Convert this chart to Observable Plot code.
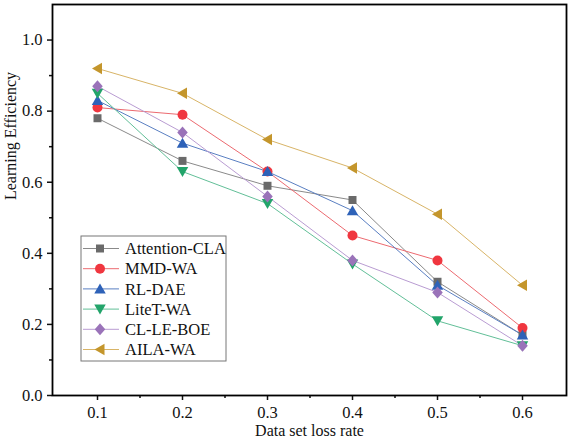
<!DOCTYPE html>
<html>
<head>
<meta charset="utf-8">
<script src="https://cdn.jsdelivr.net/npm/d3@7"></script>
<script src="https://cdn.jsdelivr.net/npm/@observablehq/plot@0.6"></script>
<style>
  html, body { margin: 0; padding: 0; background: #fff; }
  #chart { width: 570px; height: 442px; }
</style>
</head>
<body>
<div id="chart"></div>
<script>
// ---- data ----
const lossRates = [0.1, 0.2, 0.3, 0.4, 0.5, 0.6];
const seriesNames = ["Attention-CLA", "MMD-WA", "RL-DAE", "LiteT-WA", "CL-LE-BOE", "AILA-WA"];
const attentionCLA = [0.78, 0.66, 0.59, 0.55, 0.32, 0.17];
const mmdWA        = [0.81, 0.79, 0.63, 0.45, 0.38, 0.19];
const rlDAE        = [0.83, 0.71, 0.63, 0.52, 0.31, 0.17];
const liteTWA      = [0.85, 0.63, 0.54, 0.37, 0.21, 0.14];
const clLEBOE      = [0.87, 0.74, 0.56, 0.38, 0.29, 0.14];
const ailaWA       = [0.92, 0.85, 0.72, 0.64, 0.51, 0.31];
const seriesValues = [attentionCLA, mmdWA, rlDAE, liteTWA, clLEBOE, ailaWA];
const xTicks = [0.1, 0.2, 0.3, 0.4, 0.5, 0.6];
const xMinorTicks = [0.15, 0.25, 0.35, 0.45, 0.55];
const yTicks = [0, 0.2, 0.4, 0.6, 0.8, 1.0];
const yMinorTicks = [0.1, 0.3, 0.5, 0.7, 0.9];
const xLabel = "Data set loss rate";
const yLabel = "Learning Efficiency";

// ---- styles ----
const markerColors = ["#6a6a6a", "#f0363f", "#2e62b8", "#22a46a", "#9a73b9", "#c4962c"];
const lineColors   = ["#8a8a8a", "#ec6a70", "#5a7fc2", "#62bf98", "#b99cd2", "#d8b467"];

// custom symbols (size = pi * r^2)
function mk(drawFn) { return { draw(ctx, size) { drawFn(ctx, Math.sqrt(size / Math.PI)); } }; }
const symSquare = mk((c, r) => { const h = r * 0.8; c.moveTo(-h, -h); c.lineTo(h, -h); c.lineTo(h, h); c.lineTo(-h, h); c.closePath(); });
const symCircle = mk((c, r) => { const a = r * 1.0; c.moveTo(a, 0); c.arc(0, 0, a, 0, 2 * Math.PI); });
const symTriUp = mk((c, r) => { c.moveTo(0, -r * 1.1); c.lineTo(r * 1.15, r * 0.9); c.lineTo(-r * 1.15, r * 0.9); c.closePath(); });
const symTriDown = mk((c, r) => { c.moveTo(0, r * 1.1); c.lineTo(r * 1.15, -r * 0.9); c.lineTo(-r * 1.15, -r * 0.9); c.closePath(); });
const symDiamond = mk((c, r) => { c.moveTo(0, -r * 1.2); c.lineTo(r * 1.05, 0); c.lineTo(0, r * 1.2); c.lineTo(-r * 1.05, 0); c.closePath(); });
const symTriLeft = mk((c, r) => { c.moveTo(-r * 1.1, 0); c.lineTo(r * 0.9, -r * 1.15); c.lineTo(r * 0.9, r * 1.15); c.closePath(); });
const symbols = [symSquare, symCircle, symTriUp, symTriDown, symDiamond, symTriLeft];

const rows = seriesNames.map((name, i) => lossRates.map((x, j) => ({ series: name, x, y: seriesValues[i][j] })));

const font = "Liberation Serif, Times New Roman, serif";
const markerR = 5;

// legend as a render-function mark
function legendMark() {
  const g = d3.create("svg:g");
  const x0 = 81, y0 = 236, w = 145, h = 125;
  g.append("rect").attr("x", x0).attr("y", y0).attr("width", w).attr("height", h)
    .attr("fill", "white").attr("stroke", "#777").attr("stroke-width", 1);
  seriesNames.forEach((name, i) => {
    const cy = 248.5 + i * 20.2;
    g.append("line").attr("x1", 83).attr("x2", 119).attr("y1", cy).attr("y2", cy)
      .attr("stroke", lineColors[i]).attr("stroke-width", 1);
    const p = d3.path();
    symbols[i].draw(p, Math.PI * markerR * markerR);
    g.append("path").attr("d", p.toString()).attr("transform", `translate(100,${cy})`)
      .attr("fill", markerColors[i]);
    g.append("text").attr("x", 125).attr("y", cy).attr("dy", "0.35em")
      .attr("text-anchor", "start")
      .attr("font-size", 16.5).attr("fill", "#111").attr("font-family", font).text(name);
  });
  return g.node();
}

const marks = [];
rows.forEach((data, i) => {
  marks.push(Plot.line(data, { x: "x", y: "y", stroke: lineColors[i], strokeWidth: 1 }));
});
rows.forEach((data, i) => {
  marks.push(Plot.dot(data, { x: "x", y: "y", symbol: symbols[i], r: markerR, fill: markerColors[i], stroke: "none" }));
});

const chart = Plot.plot({
  width: 570,
  height: 442,
  marginLeft: 52,
  marginRight: 4,
  marginTop: 4,
  marginBottom: 47,
  style: { fontFamily: font, fontSize: "16.5px", color: "#111", background: "white" },
  x: { domain: [0.04706, 0.65176] },
  y: { domain: [0, 1.1] },
  marks: [
    Plot.axisX({ ticks: xTicks, tickFormat: d3.format(".1f"), tickSize: 5, tickPadding: 6, label: null, strokeWidth: 1.5 }),
    Plot.axisX({ ticks: xMinorTicks, tickFormat: () => "", tickSize: 3, label: null, strokeWidth: 1.5 }),
    Plot.axisY({ ticks: yTicks, tickFormat: d3.format(".1f"), tickSize: 5, tickPadding: 5, label: null, strokeWidth: 1.5 }),
    Plot.axisY({ ticks: yMinorTicks, tickFormat: () => "", tickSize: 3, label: null, strokeWidth: 1.5 }),
    Plot.text([yLabel], { frameAnchor: "left", dx: -42, rotate: -90, fontSize: 16, fill: "#111" }),
    Plot.text([xLabel], { frameAnchor: "bottom", dy: 40, fontSize: 16, fill: "#111" }),
    ...marks,
    legendMark,
    Plot.frame({ stroke: "#000", strokeWidth: 1.8 })
  ]
});
document.getElementById("chart").append(chart);
</script>
</body>
</html>
